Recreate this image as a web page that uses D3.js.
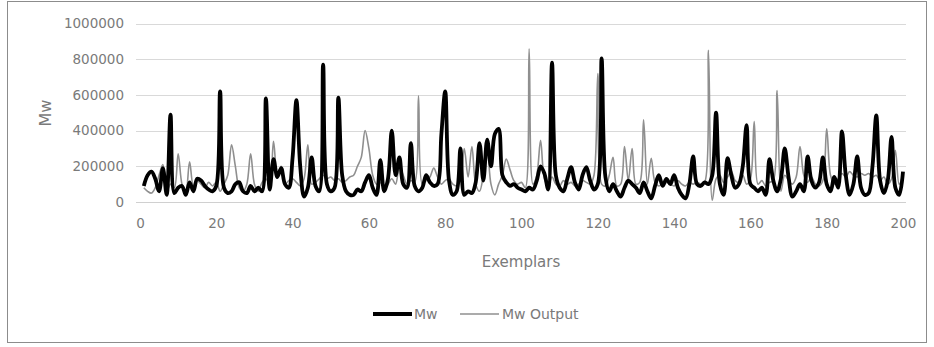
<!DOCTYPE html>
<html><head><meta charset="utf-8">
<script src="https://cdn.jsdelivr.net/npm/d3@7"></script>
<style>
html,body{margin:0;padding:0;background:#fff;}
svg{display:block;font-family:"DejaVu Sans",sans-serif;}
</style></head>
<body><svg id="c" width="934" height="347"></svg>
<script>
const mw = [90000,150000,170000,130000,60000,190000,40000,490000,50000,80000,
90000,40000,110000,60000,130000,120000,90000,70000,60000,90000,
620000,80000,50000,60000,100000,110000,60000,50000,90000,60000,
80000,60000,580000,70000,240000,140000,190000,100000,80000,250000,
570000,200000,30000,80000,250000,90000,60000,770000,100000,60000,
80000,585000,150000,60000,40000,40000,70000,60000,110000,150000,
80000,40000,235000,60000,130000,400000,150000,250000,100000,80000,
330000,90000,60000,80000,150000,110000,90000,100000,380000,620000,
120000,40000,60000,300000,40000,60000,50000,110000,330000,120000,
350000,200000,380000,410000,150000,110000,90000,100000,80000,70000,
60000,80000,70000,120000,200000,160000,70000,780000,150000,80000,
60000,130000,195000,110000,70000,150000,195000,120000,70000,100000,
805000,140000,60000,100000,60000,30000,80000,120000,100000,80000,
50000,110000,60000,20000,90000,150000,90000,130000,100000,150000,
80000,40000,20000,100000,255000,100000,90000,110000,100000,150000,
500000,100000,40000,245000,150000,80000,100000,200000,430000,100000,
80000,60000,80000,40000,240000,120000,60000,130000,300000,140000,
30000,60000,100000,60000,255000,120000,80000,110000,250000,100000,
60000,140000,80000,395000,150000,40000,100000,255000,80000,40000,
50000,200000,485000,120000,50000,120000,365000,80000,40000,170000];
const mwOut = [80000,60000,50000,80000,150000,210000,60000,100000,80000,270000,
100000,50000,225000,90000,120000,100000,80000,110000,90000,110000,
60000,100000,150000,320000,200000,80000,60000,100000,270000,100000,
60000,110000,130000,100000,340000,150000,200000,100000,120000,130000,
110000,90000,130000,320000,100000,110000,130000,150000,130000,140000,
120000,130000,110000,120000,140000,150000,200000,250000,400000,300000,
150000,100000,110000,80000,100000,130000,100000,200000,150000,100000,
120000,110000,595000,100000,120000,140000,190000,140000,100000,120000,
130000,100000,90000,120000,300000,140000,310000,100000,60000,150000,
300000,100000,40000,100000,150000,240000,180000,120000,100000,110000,
80000,858000,100000,150000,345000,130000,90000,140000,100000,90000,
120000,100000,110000,90000,100000,120000,110000,100000,150000,720000,
100000,90000,150000,250000,90000,100000,310000,120000,300000,100000,
110000,460000,100000,245000,110000,90000,100000,110000,100000,90000,
120000,100000,90000,110000,100000,110000,100000,110000,850000,10000,
130000,150000,110000,140000,170000,120000,110000,150000,100000,130000,
450000,100000,120000,90000,110000,120000,625000,60000,150000,120000,
100000,140000,310000,150000,110000,140000,100000,90000,120000,410000,
150000,100000,130000,160000,140000,170000,150000,140000,160000,150000,
160000,140000,150000,120000,140000,100000,130000,290000,100000,150000];
const xTicks = [0,20,40,60,80,100,120,140,160,180,200];
const yTicks = [0,200000,400000,600000,800000,1000000];
const seriesNames = ["Mw","Mw Output"];

const svg = d3.select("#c");
svg.append("rect").attr("x",7.5).attr("y",1.5).attr("width",919).attr("height",341)
  .attr("fill","#fff").attr("stroke","#8c8c8c").attr("stroke-width",1);

const x = d3.scaleLinear().domain([0,200]).range([140,903]);
const y = d3.scaleLinear().domain([0,1000000]).range([202,23.5]);

svg.append("g").selectAll("line").data(yTicks.slice(1)).join("line")
  .attr("x1",136).attr("x2",906).attr("y1",d=>Math.round(y(d))+0.5).attr("y2",d=>Math.round(y(d))+0.5)
  .attr("stroke","#d9d9d9").attr("stroke-width",1);
svg.append("line").attr("x1",136).attr("x2",906).attr("y1",Math.round(y(0))+0.5).attr("y2",Math.round(y(0))+0.5)
  .attr("stroke","#d0d0d0").attr("stroke-width",1);

const yAxis = d3.axisLeft(y).tickValues(yTicks).tickSize(0).tickPadding(0).tickFormat(d3.format("d"));
const gy = svg.append("g").attr("transform","translate(124,0)").call(yAxis);
gy.select(".domain").remove();
gy.selectAll("text").attr("fill","#7a7a7a").style("font-size","13.5px").style("font-family","DejaVu Sans");

const xAxis = d3.axisBottom(x).tickValues(xTicks).tickSize(0).tickPadding(0);
const gx = svg.append("g").attr("transform","translate(0,218)").call(xAxis);
gx.select(".domain").remove();
gx.selectAll("text").attr("fill","#7a7a7a").style("font-size","13.5px").style("font-family","DejaVu Sans");

svg.append("text").attr("x",521).attr("y",267).attr("text-anchor","middle")
  .attr("fill","#7a7a7a").style("font-size","15px").text("Exemplars");
svg.append("text").attr("transform","translate(51,113) rotate(-90)").attr("text-anchor","middle")
  .attr("fill","#7a7a7a").style("font-size","16px").text("Mw");

const line = d3.line().x((d,i)=>x(i+1)).y(d=>y(d)).curve(d3.curveCatmullRom.alpha(0.5));
svg.append("path").datum(mwOut).attr("d",line).attr("fill","none")
  .attr("stroke","#8f8f8f").attr("stroke-width",1.6);
svg.append("path").datum(mw).attr("d",line).attr("fill","none")
  .attr("stroke","#000").attr("stroke-width",3.8).attr("stroke-linejoin","round");

const lg = svg.append("g");
lg.append("line").attr("x1",373).attr("x2",412).attr("y1",314).attr("y2",314).attr("stroke","#000").attr("stroke-width",3.8);
lg.append("text").attr("x",414).attr("y",319).attr("fill","#7a7a7a").style("font-size","14px").text(seriesNames[0]);
lg.append("line").attr("x1",460).attr("x2",499).attr("y1",314).attr("y2",314).attr("stroke","#8f8f8f").attr("stroke-width",1.6);
lg.append("text").attr("x",502).attr("y",319).attr("fill","#7a7a7a").style("font-size","14px").text(seriesNames[1]);
</script></body></html>
